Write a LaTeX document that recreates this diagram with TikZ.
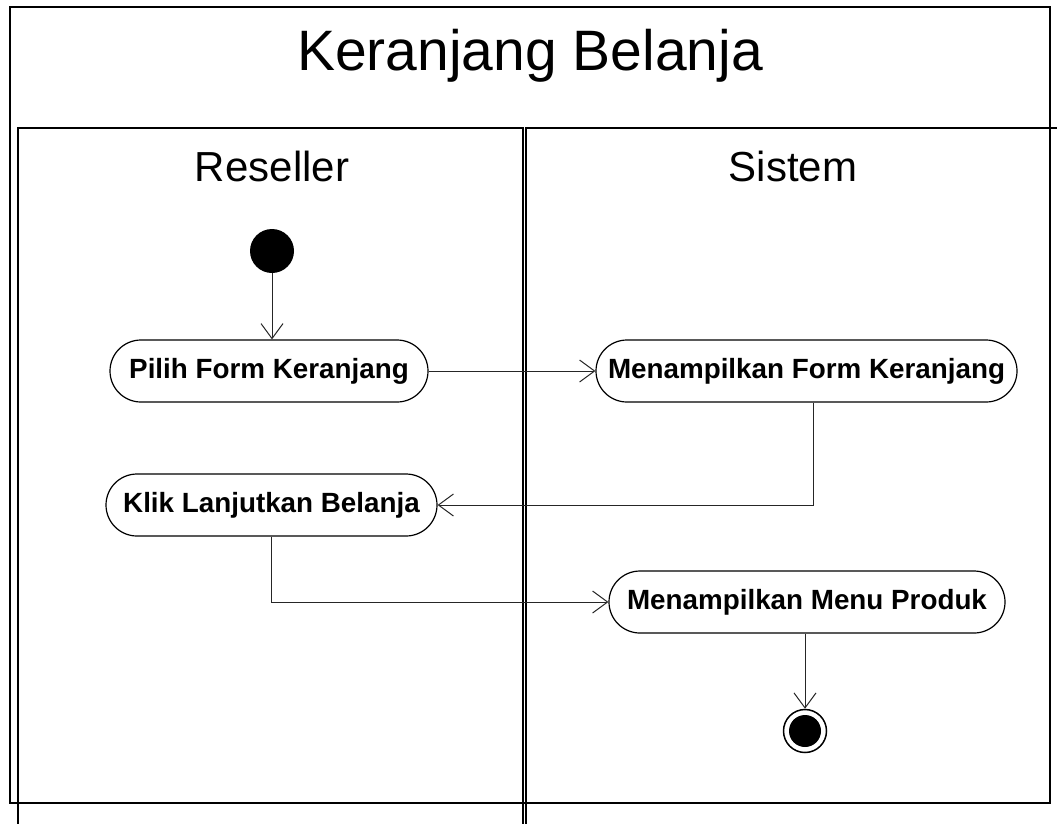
\documentclass[tikz,border=0pt]{standalone}
\usepackage{fontspec}
\setmainfont{Liberation Sans}
\usetikzlibrary{arrows.meta}
\begin{document}
\begin{tikzpicture}[x=1pt,y=-1pt,
  frame/.style={draw=black,line width=1.5pt},
  action/.style={draw=black,line width=1.2pt,rectangle,rounded corners=31pt,
    minimum height=62pt,inner sep=0pt,font=\fontsize{27.8}{31}\selectfont\bfseries},
  flow/.style={draw=black!85,line width=1pt,-{Straight Barb[length=15pt,width=22pt,line width=1pt]}},
  lanetitle/.style={font=\fontsize{42}{46}\selectfont,inner sep=0pt},
  heading/.style={font=\fontsize{57}{62}\selectfont,inner sep=0pt}]
\useasboundingbox (0,0) rectangle (1057,823);
\fill[white] (0,0) rectangle (1057,823);

% outer frame and swimlanes
\draw[frame] (10,7) rectangle (1050,803);
\draw[frame] (18,835) -- (18,128) -- (523,128) -- (523,835);
\draw[frame] (526,835) -- (526,128) -- (1070,128);

\node[heading,anchor=base] (title) at (530,70) {Keranjang Belanja};
\node[lanetitle,anchor=base] (reseller) at (272,181) {Reseller};
\node[lanetitle,anchor=base] (sistem) at (793,181) {Sistem};

% activity nodes
\node[circle,fill=black,minimum size=44pt,inner sep=0pt] (init) at (272,251) {};
\node[action,minimum width=318pt] (pilih) at (269,371) {Pilih Form Keranjang};
\node[action,minimum width=421pt] (mform) at (806.5,371) {Menampilkan Form Keranjang};
\node[action,minimum width=331pt] (klik) at (271.5,505) {Klik Lanjutkan Belanja};
\node[action,minimum width=396pt] (menu) at (807,602) {Menampilkan Menu Produk};
\node[circle,draw=black,line width=1.5pt,minimum size=43pt,inner sep=0pt] (final) at (805,731) {};
\fill[black] (final.center) circle (16pt);

% control flows
\draw[flow] (init) -- (init |- pilih.north);
\draw[flow] (pilih.east) -- (mform.west);
\draw[flow] ([xshift=6.5pt]mform.south) |- (klik.east);
\draw[flow] (klik.south) |- (menu.west);
\draw[flow] (menu.south -| final) -- (final.north);
\end{tikzpicture}
\end{document}
